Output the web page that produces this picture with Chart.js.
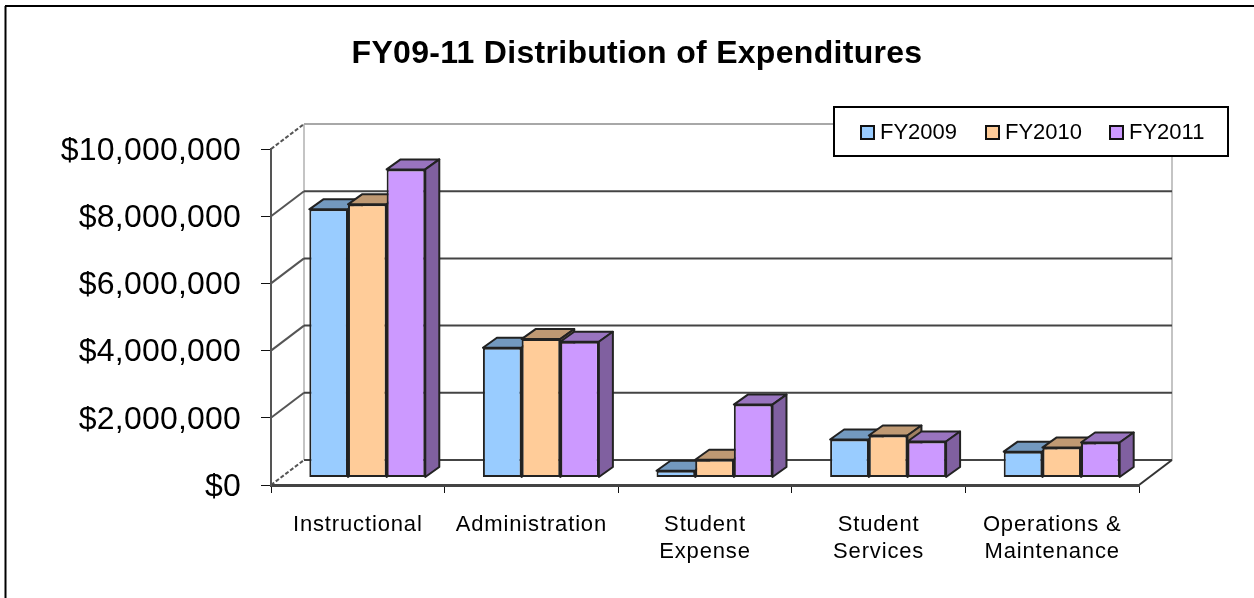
<!DOCTYPE html>
<html><head><meta charset="utf-8">
<style>html,body{margin:0;padding:0;background:#fff}canvas{display:block;filter:blur(0.4px)}</style>
<script src="https://cdn.jsdelivr.net/npm/chart.js@4/dist/chart.umd.min.js"></script>
</head><body><canvas id="c" width="1254" height="598"></canvas>
<script>
const categories = ["Instructional","Administration",["Student","Expense"],["Student","Services"],["Operations &","Maintenance"]];
const FY2009 = [7980000,3860000,200000,1130000,770000];
const FY2010 = [8130000,4120000,530000,1250000,890000];
const FY2011 = [9170000,4040000,2170000,1070000,1040000];
const seriesNames = ["FY2009","FY2010","FY2011"];
const fronts = ["#99CCFF","#FFCC99","#CC99FF"];
const sides = ["#6080A0","#A08060","#8060A0"];
const tops = ["#7399BF","#BF9973","#9974BF"];
const FONT = '"Liberation Sans", Arial, sans-serif';
const WALL = {dx:33, dy:-25}, BAR = {dx:14, dy:-10}, SHIFT = {dx:9.5, dy:-7.5};
const LEG = {x0:834,y0:107,x1:1228,y1:156,swatch:[861,986,1110],text:[880,1005,1129],size:22};

function line(ctx,x0,y0,x1,y1,c,w){ctx.strokeStyle=c;ctx.lineWidth=w;ctx.beginPath();ctx.moveTo(x0,y0);ctx.lineTo(x1,y1);ctx.stroke();}
function poly(ctx,pts,fill){ctx.fillStyle=fill;ctx.strokeStyle='#222';ctx.lineWidth=2;ctx.lineJoin='round';ctx.beginPath();pts.forEach((p,i)=>i?ctx.lineTo(p[0],p[1]):ctx.moveTo(p[0],p[1]));ctx.closePath();ctx.fill();ctx.stroke();}
function spaced(fnOwner,name,sp,ctx){const f=fnOwner[name];fnOwner[name]=function(...a){ctx.letterSpacing=sp;f.apply(this,a);ctx.letterSpacing='0px';};}

const scene = {
  id:'scene',
  afterLayout(chart){
    if(chart.$spaced) return; chart.$spaced=true;
    const t=chart.titleBlock; t.left=637-600; t.right=637+600; t.width=1200;
    spaced(t,'draw','0.3px',chart.ctx);
    spaced(chart.scales.x,'drawLabels','0.85px',chart.ctx);
    spaced(chart.scales.y,'drawLabels','0.2px',chart.ctx);
  },
  beforeDraw(chart){
    const ctx=chart.ctx,xs=chart.scales.x,ys=chart.scales.y;
    ctx.save();
    ctx.fillStyle='#fff';ctx.fillRect(0,0,chart.width,chart.height);
    line(ctx,5.5,6,5.5,598,'#000',2);
    line(ctx,5,6,1254,6,'#000',2);
    const L=xs.left,R=xs.right,topV=ys.max;
    const bx=L+WALL.dx, rx=R+WALL.dx;
    line(ctx,bx,ys.getPixelForValue(topV)+WALL.dy,bx,ys.getPixelForValue(0)+WALL.dy,'#c4c4c4',2);
    line(ctx,rx,ys.getPixelForValue(topV)+WALL.dy,rx,ys.getPixelForValue(0)+WALL.dy,'#c4c4c4',2);
    ys.ticks.forEach(t=>{
      const y=ys.getPixelForValue(t.value);
      const edge=t.value===topV;
      line(ctx,bx,y+WALL.dy,rx,y+WALL.dy,edge?'#a8a8a8':'#444',2);
      ctx.setLineDash(edge||t.value===0?[4,2]:[]);
      line(ctx,L,y,bx,y+WALL.dy,'#555',2);
      ctx.setLineDash([]);
    });
    line(ctx,R,ys.getPixelForValue(0),rx,ys.getPixelForValue(0)+WALL.dy,'#333',2);
    ctx.restore();
  },
  beforeDatasetsDraw(chart){
    const ctx=chart.ctx;
    chart.data.datasets.forEach((d,i)=>{
      const meta=chart.getDatasetMeta(i);
      ctx.save();ctx.translate(SHIFT.dx,SHIFT.dy);
      meta.data.forEach(b=>{
        const x0=b.x-b.width/2,x1=b.x+b.width/2,yt=b.y,yb=b.base;
        poly(ctx,[[x0,yt],[x0+BAR.dx,yt+BAR.dy],[x1+BAR.dx,yt+BAR.dy],[x1,yt]],tops[i]);
        poly(ctx,[[x1,yt],[x1+BAR.dx,yt+BAR.dy],[x1+BAR.dx,yb+BAR.dy],[x1,yb]],sides[i]);
      });
      meta.controller.draw();
      ctx.restore();
    });
    return false;
  },
  afterDraw(chart){
    const ctx=chart.ctx;
    ctx.save();
    ctx.fillStyle='#fff';ctx.fillRect(LEG.x0,LEG.y0,LEG.x1-LEG.x0,LEG.y1-LEG.y0);
    ctx.strokeStyle='#000';ctx.lineWidth=2;ctx.strokeRect(LEG.x0,LEG.y0,LEG.x1-LEG.x0,LEG.y1-LEG.y0);
    ctx.font=LEG.size+'px '+FONT;ctx.textBaseline='middle';ctx.textAlign='left';
    chart.data.datasets.forEach((d,i)=>{
      ctx.fillStyle=fronts[i];ctx.strokeStyle='#111';ctx.lineWidth=2;
      ctx.fillRect(LEG.swatch[i],126,13,13);ctx.strokeRect(LEG.swatch[i],126,13,13);
      ctx.fillStyle='#000';ctx.fillText(d.label,LEG.text[i],133);
    });
    ctx.restore();
  }
};

new Chart(document.getElementById('c'),{
  type:'bar',
  data:{labels:categories,datasets:[FY2009,FY2010,FY2011].map((v,i)=>({
    label:seriesNames[i],data:v,backgroundColor:fronts[i],borderColor:'#222',borderWidth:2,borderSkipped:false,
    categoryPercentage:0.668,barPercentage:1,clip:false}))},
  plugins:[scene],
  options:{
    responsive:false,animation:false,
    layout:{padding:{left:10,right:115,top:0,bottom:0}},
    plugins:{
      legend:{display:false},tooltip:{enabled:false},
      title:{display:true,text:'FY09-11 Distribution of Expenditures',color:'#000',
        font:{family:FONT,size:32,weight:'bold',lineHeight:1.2},padding:{top:35,bottom:75.6}}
    },
    scales:{
      x:{offset:true,
        afterFit(s){s.height=113;},
        grid:{display:true,drawOnChartArea:false,drawTicks:true,tickLength:8,tickColor:'#111',offset:true},
        border:{display:true,color:'#444',width:3},
        ticks:{color:'#000',maxRotation:0,autoSkip:false,padding:19,font:{family:FONT,size:22,lineHeight:1.2}}
      },
      y:{min:0,max:10000000,
        afterFit(s){s.width=261;},
        grid:{display:true,drawOnChartArea:false,drawTicks:true,tickLength:10,tickColor:'#111'},
        border:{display:true,color:'#555',width:2},
        ticks:{stepSize:2000000,color:'#000',padding:20,labelOffset:2,font:{family:FONT,size:32},
          callback:v=>'$'+Number(v).toLocaleString('en-US')}
      }
    }
  }
});
</script></body></html>
